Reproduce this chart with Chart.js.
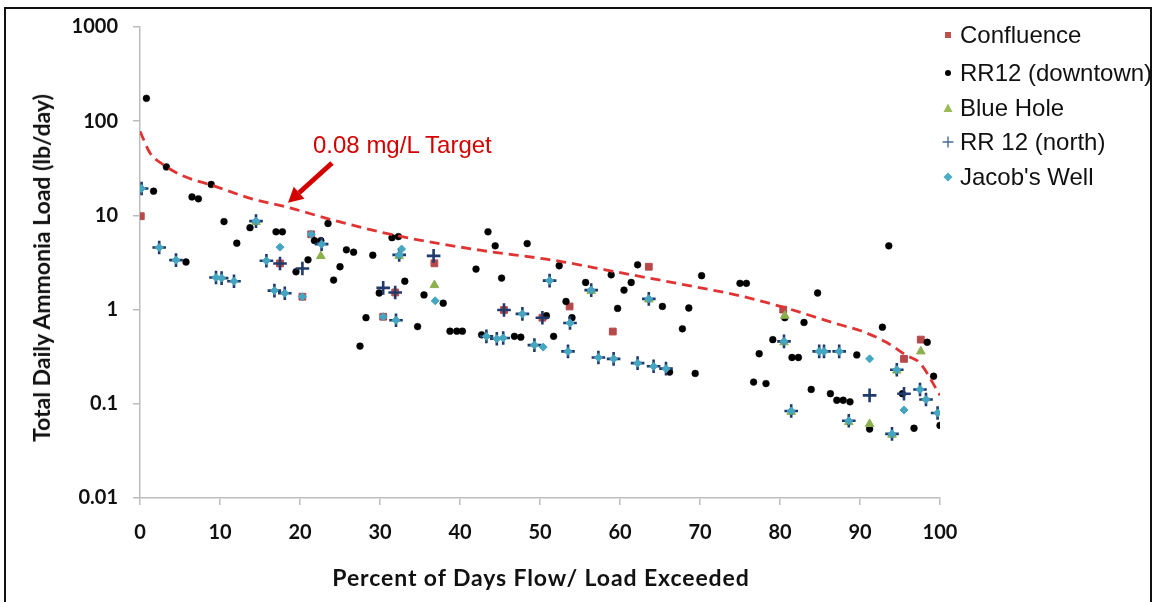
<!DOCTYPE html>
<html><head><meta charset="utf-8">
<script src="https://cdn.jsdelivr.net/npm/chart.js@4.4.1/dist/chart.umd.min.js"></script>
<style>
html,body{margin:0;padding:0;background:#fff;}
#wrap{position:relative;width:1154px;height:602px;overflow:hidden;background:#fff;}
#c{position:absolute;left:0;top:0;}
#frame{position:absolute;left:4px;top:7px;width:1144px;height:640px;border:2px solid #111;border-bottom:none;overflow:hidden;pointer-events:none;}
.lg{position:absolute;left:0;height:26px;line-height:26px;font-family:"Liberation Sans",Arial,sans-serif;font-size:24px;color:#111;white-space:nowrap;}
.lg svg{position:absolute;top:7px;left:0;}
.lg span{position:absolute;left:18px;top:0;}
.ytitle{position:absolute;left:41px;top:268px;transform:translate(-50%,-50%) rotate(-90deg);font-family:Lato,sans-serif;font-weight:bold;font-size:23px;color:#111;white-space:nowrap;}
.xtitle{position:absolute;left:541px;top:577px;transform:translate(-50%,-50%);font-family:Lato,sans-serif;font-weight:bold;font-size:23px;letter-spacing:0.9px;color:#111;white-space:nowrap;}
.note{position:absolute;left:313px;top:133px;line-height:24px;font-family:"Liberation Sans",Arial,sans-serif;font-size:24px;color:#d40000;white-space:nowrap;}
</style></head>
<body>
<div id="wrap">
<canvas id="c" width="1154" height="602"></canvas>
<div class="ytitle">Total Daily Ammonia Load (lb/day)</div>
<div class="xtitle">Percent of Days Flow/ Load Exceeded</div>
<div class="note">0.08 mg/L Target</div>
<div id="frame">
  <div class="lg" style="left:936px;top:13px"><svg width="12" height="12"><rect x="3" y="3" width="6" height="6" fill="#C0504D"/></svg><span>Confluence</span></div>
  <div class="lg" style="left:936px;top:51px"><svg width="12" height="12"><circle cx="6" cy="6" r="3" fill="#000"/></svg><span>RR12 (downtown)</span></div>
  <div class="lg" style="left:936px;top:86px"><svg width="12" height="12"><polygon points="6,1.5 10.5,10 1.5,10" fill="#9BBB59"/></svg><span>Blue Hole</span></div>
  <div class="lg" style="left:936px;top:120px"><svg width="12" height="12"><path d="M6 0.5V11.5M0.5 6H11.5" stroke="#4A6A9A" stroke-width="1.4"/></svg><span>RR 12 (north)</span></div>
  <div class="lg" style="left:936px;top:155px"><svg width="12" height="12"><polygon points="6,1.5 10.5,6 6,10.5 1.5,6" fill="#4BACC6"/></svg><span>Jacob's Well</span></div>
</div>
</div>
<script>
// ---- data (x = percent of days exceeded, y = load lb/day) ----
const xTicks = [0,10,20,30,40,50,60,70,80,90,100];
const yTicks = [0.01,0.1,1,10,100,1000];

const confluence = [[0.1,9.8],[21.4,6.3],[30.4,0.84],[20.3,1.37],[36.8,3.1],[53.7,1.08],[59.1,0.585],[63.6,2.85],[80.4,1.0],[95.5,0.3],[97.6,0.48],[31.9,1.52],[50.3,0.82],[45.5,0.99],[17.5,3.09]];

const rr12Downtown = [[0.8,175],[1.7,18.1],[3.3,32.7],[5.75,3.2],[6.5,15.7],[7.3,15],[8.9,21.3],[10.5,8.6],[12.1,5.07],[13.75,7.4],[17,6.7],[17.8,6.7],[19.5,2.52],[21,3.38],[21.8,5.4],[22.6,5.4],[23.5,8.2],[24.2,2.06],[25,2.85],[25.8,4.31],[26.7,4.07],[27.5,0.41],[28.25,0.82],[29.1,3.78],[29.9,1.5],[31.5,5.8],[32.3,5.96],[33.1,2.0],[34.7,0.66],[35.5,1.43],[37.9,1.17],[38.75,0.59],[39.6,0.59],[40.3,0.59],[42,2.69],[42.7,0.54],[43.5,6.7],[44.4,4.75],[45.2,2.16],[46.8,0.52],[47.6,0.51],[48.4,5.02],[50.8,0.86],[51.7,0.52],[52.4,2.92],[53.25,1.22],[54,0.82],[55.7,1.94],[58.9,2.34],[59.7,1.03],[60.5,1.61],[61.4,1.94],[62.2,2.99],[65.3,1.08],[66.2,0.217],[67.8,0.625],[68.6,1.04],[69.4,0.21],[70.2,2.29],[75,1.9],[75.8,1.9],[76.7,0.17],[77.4,0.34],[78.25,0.164],[79.1,0.48],[80.6,0.82],[81.5,0.31],[82.3,0.31],[83,0.73],[83.9,0.142],[84.7,1.5],[86.3,0.128],[87.1,0.109],[87.9,0.109],[88.75,0.105],[89.6,0.33],[91.2,0.054],[92.8,0.65],[93.6,4.75],[95.3,0.128],[96.75,0.055],[98.4,0.45],[99.2,0.196],[100,0.059]];

const blueHole = [[22.6,3.7],[36.8,1.82],[80.6,0.86],[91.2,0.061],[97.6,0.36],[14.5,8.5],[32.4,3.7],[56.4,1.58],[63.6,1.28],[80.5,0.45],[94.6,0.225],[94,0.047],[88.6,0.064],[81.4,0.082]];

const rr12North = [[0.2,19.3],[2.4,4.56],[4.5,3.35],[9.5,2.19],[10.2,2.16],[11.75,2.0],[14.5,8.7],[15.8,3.3],[16.8,1.59],[17.5,3.09],[18.1,1.49],[20.3,2.73],[22.7,4.95],[30.4,1.7],[31.9,1.52],[32,0.77],[32.4,3.81],[36.7,3.72],[43.3,0.52],[44.6,0.49],[45.4,0.5],[45.5,0.99],[47.8,0.9],[49.3,0.42],[50.3,0.82],[51.2,2.03],[53.5,0.36],[53.75,0.72],[56.4,1.61],[57.3,0.31],[59.2,0.3],[62.2,0.27],[63.6,1.3],[64.2,0.25],[65.75,0.236],[80.5,0.46],[81.4,0.084],[84.9,0.36],[85.5,0.36],[87.4,0.36],[88.6,0.066],[91.2,0.123],[94,0.048],[94.6,0.23],[95.5,0.128],[97.5,0.142],[98.25,0.111],[99.7,0.08]];

const jacobsWell = [[0.2,19.3],[2.4,4.56],[4.5,3.35],[9.5,2.19],[10.2,2.16],[11.75,2.0],[14.5,8.7],[15.8,3.3],[16.8,1.59],[18.1,1.49],[22.7,4.95],[32,0.77],[32.4,3.81],[43.3,0.52],[44.6,0.49],[45.4,0.5],[47.8,0.9],[49.3,0.42],[51.2,2.03],[53.5,0.36],[53.75,0.72],[56.4,1.61],[57.3,0.31],[59.2,0.3],[62.2,0.27],[63.6,1.3],[64.2,0.25],[65.75,0.236],[80.5,0.46],[81.4,0.084],[84.9,0.36],[85.5,0.36],[87.4,0.36],[88.6,0.066],[94,0.048],[94.6,0.23],[97.5,0.142],[98.25,0.111],[99.7,0.08],[17.5,4.6],[21.4,6.3],[20.3,1.37],[30.4,0.84],[32.7,4.4],[36.9,1.24],[50.4,0.4],[91.2,0.3],[95.5,0.086]];

const targetLine = [[0,78],[1.25,46],[2.9,34.6],[5.5,26],[8.9,21],[14,15],[18.75,12],[23.75,9.1],[31.7,6.2],[42.5,4.27],[50.8,3.43],[53,3.2],[58.3,2.63],[67.5,1.87],[75,1.4],[80.4,1.06],[87.5,0.69],[90,0.6],[93.3,0.45],[95.8,0.326],[97.5,0.27],[100,0.123]];

// annotation arrow in data coordinates (tail -> tip)
const arrowTail = [24.0, 36];
const arrowTip = [18.5, 13.6];

const toPts = a => a.map(p => ({x:p[0], y:p[1]}));

const arrowPlugin = {
  id:'arrow',
  afterDatasetsDraw(chart){
    const {ctx, scales:{x,y}} = chart;
    const x1 = x.getPixelForValue(arrowTail[0]), y1 = y.getPixelForValue(arrowTail[1]);
    const x2 = x.getPixelForValue(arrowTip[0]), y2 = y.getPixelForValue(arrowTip[1]);
    const ang = Math.atan2(y2-y1, x2-x1);
    const head = 15, hw = 8;
    const bx = x2 - head*Math.cos(ang), by = y2 - head*Math.sin(ang);
    ctx.save();
    ctx.strokeStyle = '#d40000'; ctx.fillStyle = '#d40000';
    ctx.lineWidth = 5; ctx.lineCap='butt';
    ctx.beginPath(); ctx.moveTo(x1,y1); ctx.lineTo(bx,by); ctx.stroke();
    ctx.beginPath();
    ctx.moveTo(x2,y2);
    ctx.lineTo(bx + hw*Math.sin(ang), by - hw*Math.cos(ang));
    ctx.lineTo(bx - hw*Math.sin(ang), by + hw*Math.cos(ang));
    ctx.closePath(); ctx.fill();
    ctx.restore();
  }
};

const tickFont = {family:'Lato', weight:'bold', size:20};

new Chart(document.getElementById('c'), {
  type:'scatter',
  data:{datasets:[
    {label:'0.08 mg/L Target', data:toPts(targetLine), showLine:true, pointRadius:0, borderColor:'#e03434', borderWidth:2.8, borderDash:[10,6], cubicInterpolationMode:'monotone', order:0},
    {label:"Jacob's Well", data:toPts(jacobsWell), pointStyle:'rectRot', pointRadius:4, backgroundColor:'#45A6C2', borderColor:'#45A6C2', borderWidth:1, order:1},
    {label:'RR 12 (north)', data:toPts(rr12North), pointStyle:'cross', pointRadius:6.8, borderColor:'#1F3A6B', backgroundColor:'#1F3A6B', borderWidth:2.6, order:2},
    {label:'Blue Hole', data:toPts(blueHole), pointStyle:'triangle', pointRadius:5, backgroundColor:'#8DB04F', borderColor:'#8DB04F', borderWidth:1, order:3},
    {label:'RR12 (downtown)', data:toPts(rr12Downtown), pointStyle:'circle', pointRadius:3.4, backgroundColor:'#000', borderColor:'#000', borderWidth:0.5, order:4},
    {label:'Confluence', data:toPts(confluence), pointStyle:'rect', pointRadius:4.8, backgroundColor:'#B8494A', borderColor:'#B8494A', borderWidth:1, order:5}
  ]},
  options:{
    responsive:false, animation:false, devicePixelRatio:1,
    layout:{padding:{left:0, right:214, top:25, bottom:0}},
    plugins:{legend:{display:false}, tooltip:{enabled:false}},
    scales:{
      x:{type:'linear', min:0, max:100,
        afterBuildTicks(s){ s.ticks = xTicks.map(v=>({value:v})); },
        afterFit(s){ s.height = 104; },
        ticks:{font:tickFont, color:'#111', padding:16, maxRotation:0, autoSkip:false},
        grid:{drawOnChartArea:false, drawTicks:true, tickLength:7, color:'#bdbdbd', lineWidth:1.5},
        border:{color:'#bdbdbd', width:1.5}
      },
      y:{type:'logarithmic', min:0.01, max:1000,
        afterBuildTicks(s){ s.ticks = yTicks.map(v=>({value:v})); },
        afterFit(s){ s.width = 140; },
        ticks:{font:tickFont, color:'#111', padding:15, autoSkip:false, callback:(v)=>String(v)},
        grid:{drawOnChartArea:false, drawTicks:true, tickLength:7, color:'#bdbdbd', lineWidth:1.5},
        border:{color:'#bdbdbd', width:1.5}
      }
    }
  },
  plugins:[arrowPlugin]
});
</script>
</body></html>
